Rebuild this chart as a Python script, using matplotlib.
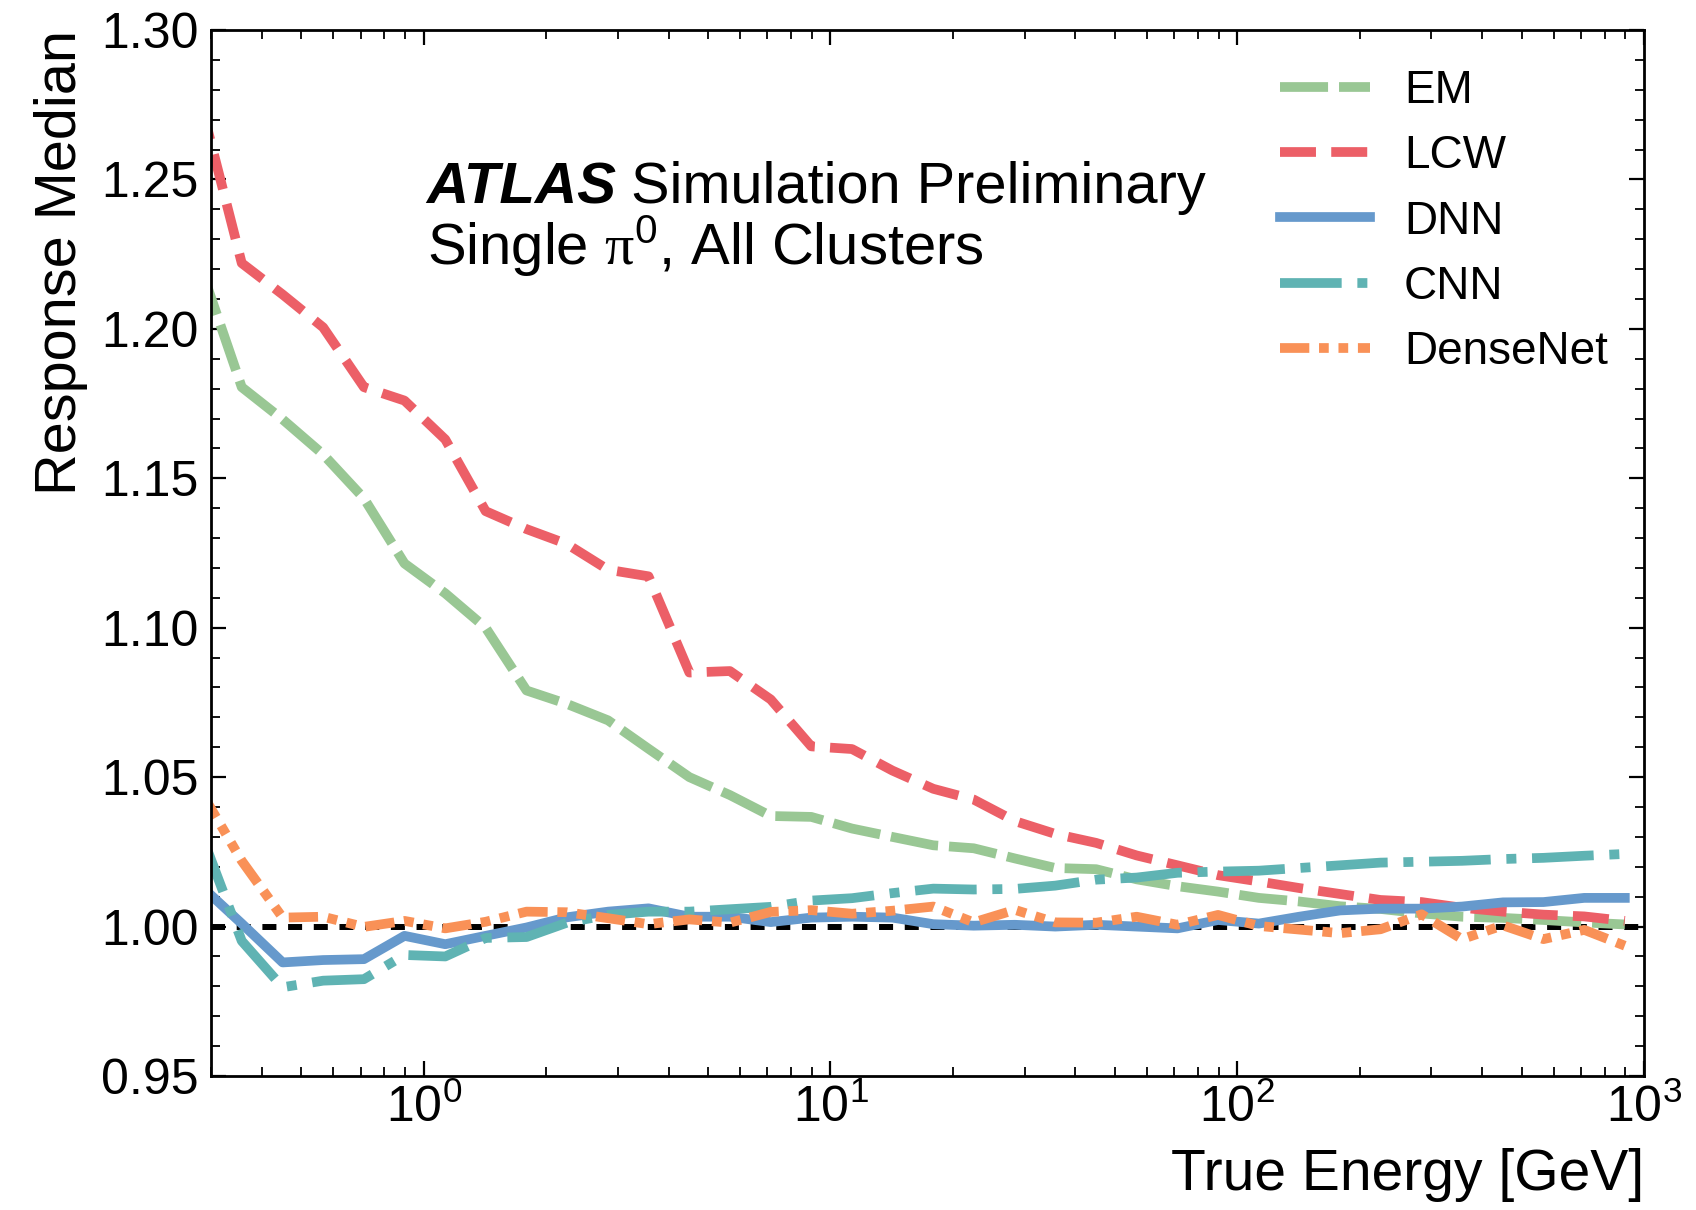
import matplotlib
matplotlib.use("Agg")
import matplotlib.pyplot as plt
from matplotlib.ticker import LogLocator, MultipleLocator, FormatStrFormatter, NullFormatter

plt.rcParams["font.family"] = ["Liberation Sans", "DejaVu Sans"]
plt.rcParams["mathtext.fontset"] = "custom"
plt.rcParams["mathtext.rm"] = "Liberation Serif"
plt.rcParams["mathtext.sf"] = "Liberation Sans"
plt.rcParams["mathtext.it"] = "Liberation Sans:italic"
plt.rcParams["mathtext.bf"] = "Liberation Sans:bold"
plt.rcParams["lines.scale_dashes"] = False

# Bin centres of the true-energy binning [GeV]
energy = [0.284, 0.357, 0.450, 0.566, 0.713, 0.897, 1.13, 1.42, 1.79, 2.25,
          2.84, 3.57, 4.50, 5.66, 7.13, 8.97, 11.3, 14.2, 17.9, 22.5,
          28.4, 35.7, 45.0, 56.6, 71.3, 89.7, 113, 142, 179, 225,
          284, 357, 450, 566, 713, 897]

resp_em = [1.220, 1.1805, 1.1697, 1.158, 1.1433, 1.1215, 1.1115, 1.100, 1.079, 1.0745,
           1.069, 1.0595, 1.050, 1.044, 1.037, 1.0367, 1.0328, 1.030, 1.0272, 1.0262,
           1.0228, 1.0196, 1.0192, 1.0158, 1.0135, 1.0117, 1.0096, 1.0084, 1.0068, 1.0059,
           1.0044, 1.0033, 1.0029, 1.0022, 1.0014, 1.0007]

resp_lcw = [1.275, 1.222, 1.2115, 1.2005, 1.1805, 1.176, 1.163, 1.139, 1.133, 1.128,
            1.1194, 1.1172, 1.085, 1.0855, 1.076, 1.0603, 1.0594, 1.0522, 1.0461, 1.0425,
            1.0353, 1.031, 1.028, 1.0238, 1.0205, 1.0172, 1.0151, 1.0129, 1.0109, 1.0089,
            1.0082, 1.0063, 1.005, 1.004, 1.0034, 1.0019]

resp_dnn = [1.0135, 1.001, 0.988, 0.9888, 0.9891, 0.9969, 0.9941, 0.9969, 0.9997, 1.0031,
            1.005, 1.0061, 1.0033, 1.0033, 1.0015, 1.003, 1.0033, 1.003, 1.0008, 1.0003,
            1.0006, 1.0000, 1.0006, 1.0000, 0.9994, 1.0022, 1.001, 1.0033, 1.0054, 1.006,
            1.006, 1.0067, 1.0081, 1.0082, 1.0096, 1.0096]

resp_cnn = [1.031, 0.9952, 0.9797, 0.9819, 0.9824, 0.9905, 0.9900, 0.9962, 0.9965, 1.0013,
            1.0039, 1.005, 1.005, 1.0058, 1.0066, 1.0087, 1.0095, 1.0112, 1.0127, 1.0124,
            1.0126, 1.0137, 1.0157, 1.0164, 1.018, 1.0184, 1.0187, 1.0196, 1.0205, 1.0214,
            1.0217, 1.022, 1.0226, 1.023, 1.0237, 1.0243]

resp_densenet = [1.045, 1.022, 1.003, 1.0033, 0.9999, 1.0019, 0.9994, 1.0016, 1.005, 1.0048,
                 1.0028, 1.0008, 1.0024, 1.0013, 1.0049, 1.0055, 1.0043, 1.0053, 1.0067, 1.0014,
                 1.0056, 1.0014, 1.0013, 1.0033, 1.0006, 1.0039, 1.0002, 0.999, 0.9978, 0.9991,
                 1.0041, 0.9958, 1.0004, 0.9958, 0.9989, 0.9936]

labels = ["EM", "LCW", "DNN", "CNN", "DenseNet"]
colors = ["#99C794", "#EC5F67", "#6699CC", "#5FB3B3", "#F99157"]

fig = plt.figure(figsize=(16.96, 12.10), dpi=100)
ax = fig.add_axes([0.12441, 0.11074, 0.84493, 0.86446])

# unity reference
ax.axhline(1.0, color="black", lw=4.3, dashes=(10.1, 8.4), zorder=1.5)

lw = 7
series = [resp_em, resp_lcw, resp_dnn, resp_cnn, resp_densenet]
styles = [dict(dashes=(34.6, 7.9)),
          dict(dashes=(25.9, 11.0)),
          dict(linestyle="-"),
          dict(dashes=(44.4, 11.3, 7.2, 11.3)),
          dict(dashes=(21.1, 7.0, 7.0, 7.0, 7.0, 7.0))]
for i, (vals, lab, col, st) in enumerate(zip(series, labels, colors, styles)):
    ax.plot(energy, vals, color=col, lw=lw, label=lab, zorder=2 + i * 0.1, **st)

ax.set_xscale("log")
ax.set_xlim(0.3, 1000)
ax.set_ylim(0.95, 1.30)

ax.yaxis.set_major_locator(MultipleLocator(0.05))
ax.yaxis.set_minor_locator(MultipleLocator(0.01))
ax.yaxis.set_major_formatter(FormatStrFormatter("%.2f"))
ax.xaxis.set_major_locator(LogLocator(base=10, numticks=20))
ax.xaxis.set_minor_locator(LogLocator(base=10, subs=range(2, 10), numticks=20))
ax.xaxis.set_minor_formatter(NullFormatter())

ax.tick_params(which="both", direction="in", top=True, right=True, colors="black")
ax.tick_params(which="major", length=10.8, width=1.6, labelsize=36)
ax.tick_params(axis="y", which="major", pad=9)
ax.tick_params(axis="x", which="major", pad=6)
ax.tick_params(which="minor", length=6.5, width=1.3)
for sp in ax.spines.values():
    sp.set_linewidth(2)

ax.set_xlabel("True Energy [GeV]", fontsize=41, loc="right", labelpad=11)
ax.set_ylabel("Response Median", fontsize=41.5, loc="top", labelpad=9)

atlas = ax.text(0.1505, 0.8343, "ATLAS", transform=ax.transAxes, fontsize=42,
                fontweight="bold", fontstyle="italic", va="baseline", ha="left")
ax.annotate("Simulation Preliminary", xy=(1.0, 0.8343),
            xycoords=(atlas, "axes fraction"), xytext=(10, 0),
            textcoords="offset points", fontsize=41.6, va="baseline", ha="left")
ax.text(0.1505, 0.7753, r"Single $\mathrm{\pi}^{\mathsf{0}}$, All Clusters",
        transform=ax.transAxes, fontsize=41.8, va="baseline", ha="left")

ax.legend(loc="upper left", bbox_to_anchor=(0.746, 0.9624), frameon=False,
          fontsize=33, handlelength=1.96, handletextpad=0.74, labelspacing=0.46,
          borderpad=0, borderaxespad=0)

fig.savefig("out.png", dpi=100, facecolor="white")
